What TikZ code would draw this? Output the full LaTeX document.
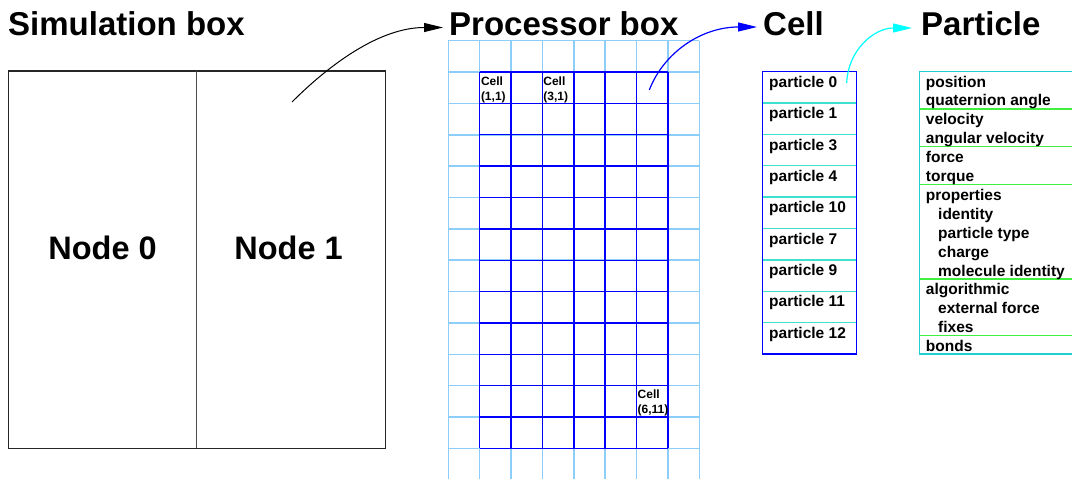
\documentclass[tikz,border=0pt]{standalone}
\usepackage{fontspec}
\setmainfont{Liberation Sans}
\usetikzlibrary{arrows.meta}
\definecolor{gridlight}{RGB}{140,205,250}
\definecolor{gridblue}{RGB}{0,0,255}
\definecolor{turq}{RGB}{64,224,208}
\definecolor{pborder}{RGB}{32,208,208}
\definecolor{pgreen}{RGB}{64,240,64}
\definecolor{arrcyan}{RGB}{0,255,255}
\begin{document}
\begin{tikzpicture}[x=1pt,y=-1pt,
  title/.style={anchor=base west,inner sep=0pt,font=\fontsize{33}{40}\selectfont\bfseries},
  nodetext/.style={inner sep=0pt,font=\fontsize{32.5}{38}\selectfont\bfseries},
  listtext/.style={anchor=base west,inner sep=0pt,font=\fontsize{15.5}{18}\selectfont\bfseries},
  celllabel/.style={anchor=base west,inner sep=0pt,font=\fontsize{12}{15}\selectfont\bfseries},
  lightgrid/.style={draw=gridlight,line width=1.5pt},
  darkgrid/.style={draw=gridblue,line width=1.4pt},
  simline/.style={draw=black!85,line width=1.3pt},
  arr/.style={-{Triangle[length=19pt,width=9pt]},line width=1pt}
]
\clip (0,0) rectangle (1072,479);
\fill[white] (0,0) rectangle (1072,479);

% titles
\node[title] (tsim) at (8,35) {Simulation box};
\node[title] (tproc) at (449,35) {Processor box};
\node[title] (tcell) at (763,35) {Cell};
\node[title] (tpart) at (921,35) {Particle};

% simulation box
\draw[simline] (8.3,71) rectangle (385.7,448.3);
\draw[draw=black!70,line width=1.3pt] (196.7,71) -- (196.7,448.3);
\node[nodetext] (node0) at (102.5,247.5) {Node 0};
\node[nodetext] (node1) at (288.5,247.5) {Node 1};

% processor grid
\foreach \i in {0,...,13}
  \draw[lightgrid] (448.3,40.7+31.36*\i) -- (699.3,40.7+31.36*\i);
\foreach \i in {0,...,8}
  \draw[lightgrid] (448.3+31.375*\i,40.7) -- (448.3+31.375*\i,480);
\foreach \i in {1,...,7}
  \draw[darkgrid] (448.3+31.375*\i,72.06) -- (448.3+31.375*\i,448.4);
\foreach \j in {1,...,13}
  \draw[darkgrid] (479.68,40.7+31.36*\j) -- (668.2,40.7+31.36*\j);
\node[celllabel] (c11a) at (480.8,85) {Cell};
\node[celllabel] (c11b) at (480.8,100) {(1,1)};
\node[celllabel] (c31a) at (543.2,85) {Cell};
\node[celllabel] (c31b) at (543.2,100) {(3,1)};
\node[celllabel] (c611a) at (637.5,398.3) {Cell};
\node[celllabel] (c611b) at (637.5,413.3) {(6,11)};

% cell list
\foreach \k in {1,...,8}
  \draw[draw=turq,line width=1.3pt] (762.3,71.7+31.36*\k) -- (856.3,71.7+31.36*\k);
\draw[draw=gridblue,line width=1.3pt] (762.3,71.7) rectangle (856.3,354);
\foreach \t [count=\k from 0] in {0,1,3,4,10,7,9,11,12}
  \node[listtext] (cp\k) at (769,87.4+31.36*\k) {particle \t};

% particle list
\foreach \y in {109,146.7,184.3,279,335.3}
  \draw[draw=pgreen,line width=1.3pt] (919.3,\y) -- (1080,\y);
\draw[draw=pborder,line width=1.3pt] (1080,71.7) -- (919.3,71.7) -- (919.3,354) -- (1080,354);
\foreach \t/\ind [count=\k from 0] in {position/0,quaternion angle/0,velocity/0,angular velocity/0,force/0,torque/0,properties/0,identity/1,particle type/1,charge/1,molecule identity/1,algorithmic/0,external force/1,fixes/1,bonds/0}
  \node[listtext] (pp\k) at (925.7+12.3*\ind,87+18.9*\k) {\t};

% arrows
\coordinate (a1s) at (292,102);
\coordinate (a1e) at (443,27.5);
\draw[arr,black] (a1s) .. controls (330,64) and (380,27.5) .. (a1e);
\coordinate (a2s) at (649.3,90);
\coordinate (a2e) at (757,27);
\draw[arr,gridblue,line width=1.2pt] (a2s) .. controls (664,52) and (702,27) .. (a2e);
\coordinate (a3s) at (846.7,83);
\coordinate (a3e) at (912,28);
\draw[arr,arrcyan,line width=1.2pt] (a3s) .. controls (848,50) and (874,28) .. (a3e);
\end{tikzpicture}
\end{document}
